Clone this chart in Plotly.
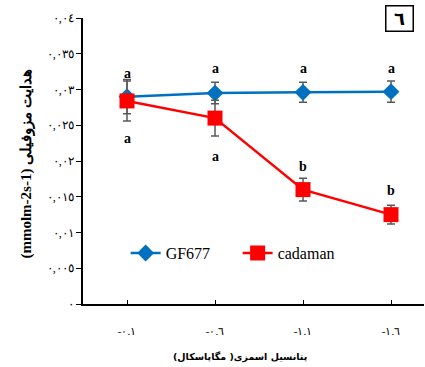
import plotly.graph_objects as go

categories = ["-٠.١", "-٠.٦", "-١.١", "-١.٦"]
x_pos = [0, 1, 2, 3]
gf677 = [0.0290, 0.0295, 0.0296, 0.0297]
gf677_err = [0.0024, 0.0015, 0.0014, 0.0015]
cadaman = [0.0284, 0.0260, 0.0160, 0.0125]
cadaman_err = [0.0028, 0.0025, 0.0016, 0.0013]
gf677_letters = ["a", "a", "a", "a"]
gf677_letter_y = [0.0323, 0.0330, 0.0330, 0.0330]
cad_letters = ["a", "a", "b", "b"]
cad_letter_y = [0.0231, 0.0206, 0.0192, 0.0159]
ytick_vals = [0, 0.005, 0.01, 0.015, 0.02, 0.025, 0.03, 0.035, 0.04]
ytick_text = ["٠", "٠,٠٠٥", "٠,٠١", "٠,٠١٥", "٠,٠٢", "٠,٠٢٥", "٠,٠٣", "٠,٠٣٥", "٠,٠٤"]
x_title = "پتانسیل اسمزی( مگاپاسکال)"
y_title = "(mmolm-2s-1) هدایت مزوفیلی"

FONT = "Liberation Serif, DejaVu Serif, serif"
err_style = dict(type="data", thickness=1.5, width=4, color="#595959")

fig = go.Figure()
fig.add_trace(go.Scatter(
    x=x_pos, y=gf677, name="GF677", mode="lines+markers",
    line=dict(color="#0070C0", width=2.5),
    marker=dict(symbol="diamond", size=13, color="#0070C0"),
    error_y=dict(array=gf677_err, **err_style),
))
fig.add_trace(go.Scatter(
    x=x_pos, y=cadaman, name="cadaman", mode="lines+markers",
    line=dict(color="#FF0000", width=2.5),
    marker=dict(symbol="square", size=15, color="#FF0000"),
    error_y=dict(array=cadaman_err, **err_style),
))

for xi, t, yv in zip(x_pos, gf677_letters, gf677_letter_y):
    fig.add_annotation(x=xi, y=yv, text="<b>%s</b>" % t, showarrow=False,
                       font=dict(family=FONT, size=14, color="black"))
for xi, t, yv in zip(x_pos, cad_letters, cad_letter_y):
    fig.add_annotation(x=xi, y=yv, text="<b>%s</b>" % t, showarrow=False,
                       font=dict(family=FONT, size=14, color="black"))

# panel number box
fig.add_annotation(xref="paper", yref="paper", x=0.927, y=1.0,
                   xanchor="center", yanchor="middle",
                   text="<b>٦</b>", showarrow=False, width=26, height=24,
                   bordercolor="black", borderwidth=1.5, borderpad=0,
                   bgcolor="white",
                   font=dict(family="DejaVu Sans, sans-serif", size=18, color="black"))

fig.add_annotation(xref="paper", yref="paper", x=(240 - 83) / 341, y=-0.185,
                   xanchor="center", yanchor="middle",
                   text="<b>%s</b>" % x_title, showarrow=False,
                   font=dict(family="DejaVu Sans, sans-serif", size=9.5, color="black"))

fig.add_annotation(xref="paper", yref="paper", x=-0.165, y=0.49,
                   xanchor="center", yanchor="middle", textangle=-90,
                   text="<b>%s</b>" % y_title,
                   showarrow=False, font=dict(family=FONT, size=15, color="black"))

fig.update_layout(
    width=425, height=367,
    margin=dict(l=83, r=1, t=18, b=63),
    paper_bgcolor="white", plot_bgcolor="white",
    font=dict(family=FONT, size=11, color="black"),
    showlegend=True,
    legend=dict(orientation="h", x=0.125, y=0.178, xanchor="left", yanchor="middle",
                font=dict(family=FONT, size=16, color="black"),
                bgcolor="rgba(0,0,0,0)", entrywidth=67, entrywidthmode="pixels"),
    xaxis=dict(range=[-0.5, 3.375], tickvals=x_pos, ticktext=categories,
               showline=True, linecolor="black", linewidth=1.5,
               ticks="inside", ticklen=4, tickcolor="black",
               showgrid=False, zeroline=False, ticklabelstandoff=16,
               tickfont=dict(family=FONT, size=11, color="black")),
    yaxis=dict(range=[0, 0.04], tickvals=ytick_vals, ticktext=ytick_text,
               showline=True, linecolor="black", linewidth=1.5,
               ticks="outside", ticklen=5, tickcolor="black",
               showgrid=False, zeroline=False,
               tickfont=dict(family=FONT, size=12, color="black")),
)

fig.write_html("out.html")
